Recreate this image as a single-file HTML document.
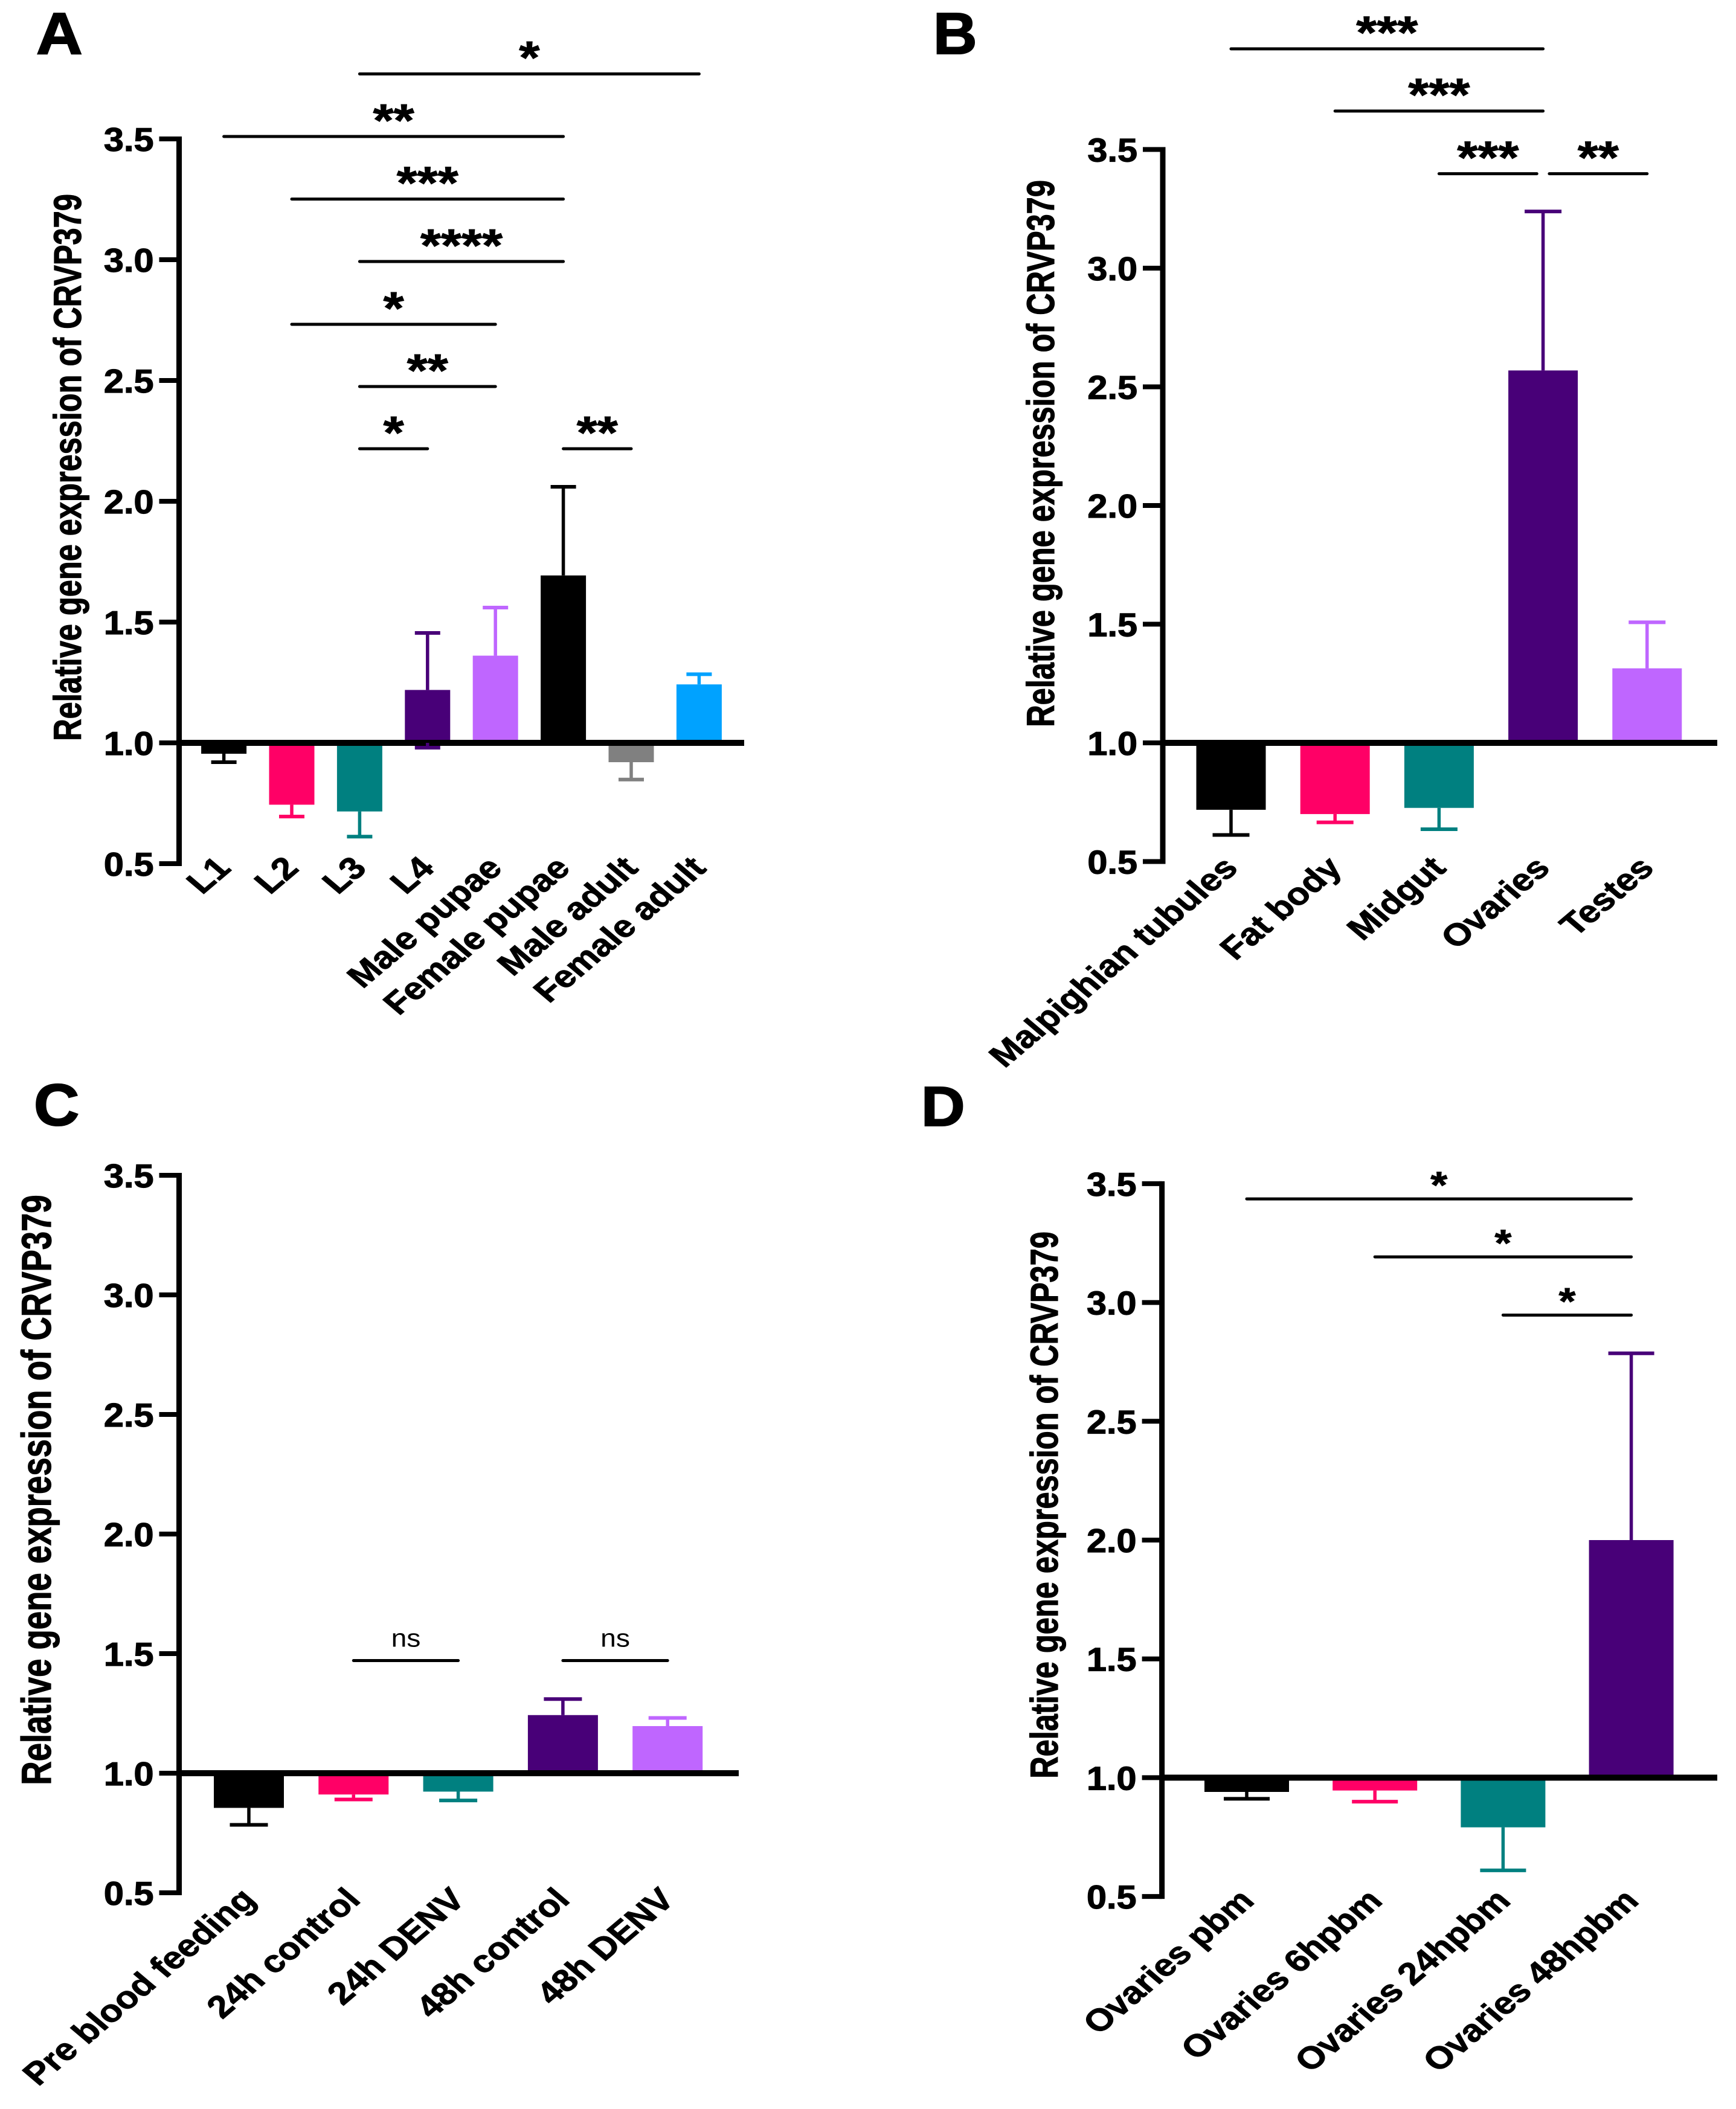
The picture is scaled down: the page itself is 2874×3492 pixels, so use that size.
<!DOCTYPE html>
<html lang="en">
<head>
<meta charset="utf-8">
<title>CRVP379 relative gene expression</title>
<style>
html,body{margin:0;padding:0;background:#fff;}
svg{display:block;}
text{font-family:"Liberation Sans",Arial,sans-serif;}
</style>
</head>
<body>
<svg id="figure" xmlns="http://www.w3.org/2000/svg" width="2874" height="3492" viewBox="0 0 2874 3492">
<rect x="0" y="0" width="2874" height="3492" fill="#ffffff"/>
</svg>
<script>
const tickLabels = ["0.5", "1.0", "1.5", "2.0", "2.5", "3.0", "3.5"];

const aCategories = ["L1", "L2", "L3", "L4", "Male pupae", "Female pupae", "Male adult", "Female adult"];
const aValues = [0.955, 0.744, 0.716, 1.219, 1.361, 1.693, 0.92, 1.242];
const aErrorCaps = [0.92, 0.695, 0.612, 1.455, 1.56, 2.06, 0.848, 1.284];
const aLowerCaps = [null, null, null, 0.98, null, null, null, null];
const aColors = ["#000000", "#ff0066", "#008080", "#480078", "#bf66ff", "#000000", "#808080", "#00a2ff"];
const aBracketFrom = [2, 0, 1, 2, 1, 2, 2, 5];
const aBracketTo = [7, 5, 5, 5, 4, 4, 3, 6];
const aBracketLevel = [3.769, 3.51, 3.251, 2.9925, 2.7325, 2.475, 2.2175, 2.2175];
const aBracketMark = ["*", "**", "***", "****", "*", "**", "*", "**"];

const bCategories = ["Malpighian tubules", "Fat body", "Midgut", "Ovaries", "Testes"];
const bValues = [0.718, 0.70, 0.726, 2.569, 1.314];
const bErrorCaps = [0.612, 0.665, 0.636, 3.239, 1.508];
const bLowerCaps = [null, null, null, null, null];
const bColors = ["#000000", "#ff0066", "#008080", "#480078", "#bf66ff"];
const bBracketFrom = [0, 1, 2, 3.06];
const bBracketTo = [3, 3, 2.94, 4];
const bBracketLevel = [3.924, 3.662, 3.398, 3.398];
const bBracketMark = ["***", "***", "***", "**"];

const cCategories = ["Pre blood feeding", "24h control", "24h DENV", "48h control", "48h DENV"];
const cValues = [0.855, 0.911, 0.923, 1.243, 1.197];
const cErrorCaps = [0.784, 0.89, 0.886, 1.31, 1.231];
const cLowerCaps = [null, null, null, null, null];
const cColors = ["#000000", "#ff0066", "#008080", "#480078", "#bf66ff"];
const cBracketFrom = [1, 3];
const cBracketTo = [2, 4];
const cBracketLevel = [1.471, 1.471];
const cBracketMark = ["ns", "ns"];

const dCategories = ["Ovaries pbm", "Ovaries 6hpbm", "Ovaries 24hpbm", "Ovaries 48hpbm"];
const dValues = [0.94, 0.946, 0.791, 2.0];
const dErrorCaps = [0.911, 0.899, 0.61, 2.786];
const dLowerCaps = [null, null, null, null];
const dColors = ["#000000", "#ff0066", "#008080", "#480078"];
const dBracketFrom = [0, 1, 2];
const dBracketTo = [3, 3, 3];
const dBracketLevel = [3.436, 3.192, 2.947];
const dBracketMark = ["*", "*", "*"];

const yAxisTitle = "Relative gene expression of CRVP379";

const SVG_NS = "http://www.w3.org/2000/svg";
const root = document.getElementById("figure");
const STRETCH = 1.18;

function slug(s) {
  return String(s).toLowerCase().replace(/[^a-z0-9]+/g, "-").replace(/^-|-$/g, "");
}
function makeLine(parent, x1, y1, x2, y2, color, width) {
  const el = document.createElementNS(SVG_NS, "line");
  el.setAttribute("x1", x1);
  el.setAttribute("y1", y1);
  el.setAttribute("x2", x2);
  el.setAttribute("y2", y2);
  el.setAttribute("stroke", color);
  el.setAttribute("stroke-width", width);
  parent.appendChild(el);
  return el;
}
function makeRect(parent, x, y, w, h, color) {
  const el = document.createElementNS(SVG_NS, "rect");
  el.setAttribute("x", x);
  el.setAttribute("y", y);
  el.setAttribute("width", w);
  el.setAttribute("height", h);
  el.setAttribute("fill", color);
  parent.appendChild(el);
  return el;
}
function makeText(parent, str, transform, size, anchor, weight, sw) {
  const el = document.createElementNS(SVG_NS, "text");
  el.textContent = str;
  el.setAttribute("transform", transform);
  el.setAttribute("font-size", size);
  el.setAttribute("text-anchor", anchor);
  el.setAttribute("font-weight", weight);
  el.setAttribute("fill", "#000");
  if (sw) {
    el.setAttribute("stroke", "#000");
    el.setAttribute("stroke-width", sw);
  }
  parent.appendChild(el);
  return el;
}

function drawPanel(p) {
  const yScale = function (v) { return p.yOne - (v - 1) * p.unit; };
  const xScale = function (i) { return p.x0 + i * p.step; };

  const g = document.createElementNS(SVG_NS, "g");
  
  
  root.appendChild(g);

  const letter = makeText(g, p.id.toUpperCase(), "translate(" + p.letterX + " " + p.letterY + ") scale(" + p.letterSX + " " + p.letterSY + ")", 93, "start", "bold", 2);
  
  

  const title = makeText(g, yAxisTitle, "translate(" + p.titleX + " " + p.titleY + ") scale(1.26 1) rotate(-90)", p.titleSize, "middle", "bold", 1);
  
  

  p.categories.forEach(function (cat, i) {
    const cx = xScale(i);
    const v = p.values[i];
    const top = Math.min(yScale(v), p.yOne);
    const h = Math.abs(yScale(v) - p.yOne);
    const bar = makeRect(g, cx - p.barW / 2, top, p.barW, h, p.colors[i]);
    
    
  });

  const baseline = makeLine(g, p.axisX, p.yOne, p.axisR, p.yOne, "#000", 10);
  
  

  const yAxis = makeLine(g, p.axisX, yScale(3.5) - 4, p.axisX, yScale(0.5) + 4, "#000", 9);
  
  

  tickLabels.forEach(function (lab) {
    const yy = yScale(parseFloat(lab));
    const tick = makeLine(g, p.axisX - 33, yy, p.axisX, yy, "#000", 8);
    
    
    const tl = makeText(g, lab, "translate(" + (p.axisX - 42) + " " + (yy + 20) + ") scale(1.08 1)", 55, "end", "bold", 1.2);
    
    
  });

  p.categories.forEach(function (cat, i) {
    const cx = xScale(i);
    const capY = yScale(p.caps[i]);
    const stem = makeLine(g, cx, yScale(p.values[i]), cx, capY, p.colors[i], 5.5);
    
    
    const cap = makeLine(g, cx - p.capW / 2, capY, cx + p.capW / 2, capY, p.colors[i], 6);
    
    
    if (p.lower[i] !== null) {
      const lowY = yScale(p.lower[i]);
      const lowStem = makeLine(g, cx, p.yOne, cx, lowY, p.colors[i], 5.5);
      
      
      const lowCap = makeLine(g, cx - p.capW / 2, lowY, cx + p.capW / 2, lowY, p.colors[i], 6);
      
      
    }
    const lx = cx + p.labelDX;
    const xl = makeText(g, cat, "translate(" + lx + " " + p.labelY + ") scale(" + STRETCH + " 1) rotate(-45)", 51.5, "end", "bold", 1);
    
    
  });

  p.bFrom.forEach(function (from, k) {
    const x1 = xScale(from);
    const x2 = xScale(p.bTo[k]);
    const yy = yScale(p.bLevel[k]);
    const line = makeLine(g, x1, yy, x2, yy, "#000", 5);
    line.setAttribute("stroke-linecap", "round");
    
    
    const mark = p.bMark[k];
    const mid = (x1 + x2) / 2;
    let t;
    if (mark === "ns") {
      t = makeText(g, mark, "translate(" + mid + " " + (yy - 23) + ") scale(1.1 1)", 42, "middle", "normal", 0);
    } else {
      t = makeText(g, mark, "translate(" + mid + " " + (yy - p.starGap + 0.57 * p.starSize) + ") scale(1.15 1)", p.starSize, "middle", "bold", 1);
    }
    
    
  });
}

const panelA = { id: "a", categories: aCategories, values: aValues, caps: aErrorCaps, lower: aLowerCaps, colors: aColors, bFrom: aBracketFrom, bTo: aBracketTo, bLevel: aBracketLevel, bMark: aBracketMark, x0: 370.6, step: 112.4, barW: 75, capW: 42, axisX: 296.5, axisR: 1232, yOne: 1230, unit: 400, letterX: 60, letterY: 89, letterSX: 1.14, letterSY: 1.05, titleX: 134, titleY: 774, titleSize: 50.5, labelDX: 14, labelY: 1440, starSize: 76, starGap: 44 };
const panelB = { id: "b", categories: bCategories, values: bValues, caps: bErrorCaps, lower: bLowerCaps, colors: bColors, bFrom: bBracketFrom, bTo: bBracketTo, bLevel: bBracketLevel, bMark: bBracketMark, x0: 2038, step: 172.2, barW: 115, capW: 61, axisX: 1925, axisR: 2843, yOne: 1230, unit: 393, letterX: 1545, letterY: 89, letterSX: 1.08, letterSY: 1.05, titleX: 1745, titleY: 751, titleSize: 50.5, labelDX: 14, labelY: 1440, starSize: 76, starGap: 44 };
const panelC = { id: "c", categories: cCategories, values: cValues, caps: cErrorCaps, lower: cLowerCaps, colors: cColors, bFrom: cBracketFrom, bTo: cBracketTo, bLevel: cBracketLevel, bMark: cBracketMark, x0: 412, step: 173.3, barW: 116, capW: 63, axisX: 296.5, axisR: 1223, yOne: 2936, unit: 396, letterX: 56, letterY: 1863, letterSX: 1.12, letterSY: 1.05, titleX: 84, titleY: 2467, titleSize: 54.5, labelDX: 14, labelY: 3148, starSize: 76, starGap: 44 };
const panelD = { id: "d", categories: dCategories, values: dValues, caps: dErrorCaps, lower: dLowerCaps, colors: dColors, bFrom: dBracketFrom, bTo: dBracketTo, bLevel: dBracketLevel, bMark: dBracketMark, x0: 2064, step: 212.2, barW: 140, capW: 76, axisX: 1923.6, axisR: 2843, yOne: 2943.4, unit: 393.4, letterX: 1525, letterY: 1864, letterSX: 1.08, letterSY: 1, titleX: 1751, titleY: 2492, titleSize: 50.5, labelDX: 15, labelY: 3150, starSize: 62, starGap: 37 };

drawPanel(panelA);
drawPanel(panelB);
drawPanel(panelC);
drawPanel(panelD);
</script>
</body>
</html>
